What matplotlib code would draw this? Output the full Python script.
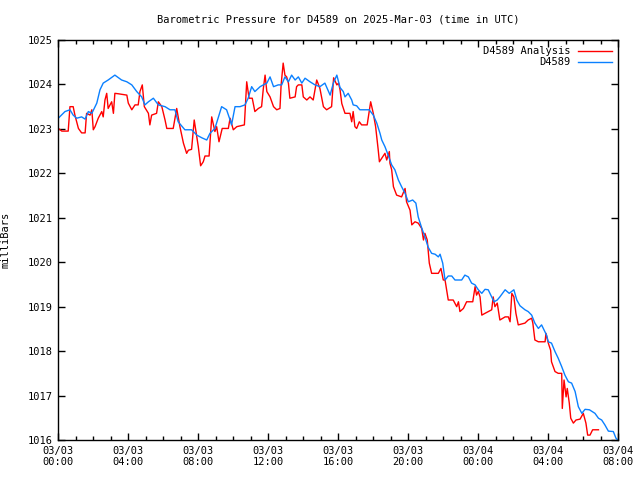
import numpy as np
import matplotlib
matplotlib.use("Agg")
import matplotlib.pyplot as plt
from matplotlib.ticker import MultipleLocator

# minutes after 2025-03-03 00:00 UTC, pressure in mb
obs_min = [1, 24, 41, 52, 64, 81, 93, 104, 116, 133, 144, 155, 172, 195, 218, 236, 253, 270,
           287, 298, 310, 327, 344, 367, 384, 401, 412, 435, 458, 476, 493, 510, 521, 538,
           550, 561, 578, 590, 595, 607, 624, 641, 652, 664, 675, 693, 704, 716, 727, 739,
           755, 767, 778, 790, 801, 813, 824, 836, 847, 864, 881, 898, 915, 933, 944, 956,
           967, 978, 984, 995, 1007, 1012, 1024, 1035, 1067, 1081, 1093, 1104, 1110, 1121,
           1132, 1144, 1155, 1167, 1178, 1190, 1201, 1216, 1227, 1235, 1247, 1258, 1269,
           1281, 1293, 1304, 1310, 1319, 1327, 1338, 1350, 1361, 1384, 1395, 1407, 1418,
           1430, 1441, 1453, 1464, 1475, 1487, 1495, 1506, 1515, 1533, 1547, 1563, 1573,
           1584, 1601, 1612, 1624, 1635, 1647, 1658, 1666, 1675, 1681, 1692, 1704, 1715,
           1727, 1738, 1750, 1761, 1773, 1784, 1796, 1807, 1822, 1841, 1853, 1864, 1875,
           1887, 1904, 1913, 1918]
obs_mb = [1023.24, 1023.39, 1023.43, 1023.31, 1023.24, 1023.27, 1023.22, 1023.39, 1023.35,
          1023.58, 1023.88, 1024.03, 1024.10, 1024.21, 1024.10, 1024.06, 1023.99, 1023.84,
          1023.72, 1023.54, 1023.61, 1023.69, 1023.54, 1023.50, 1023.43, 1023.43, 1023.16,
          1022.98, 1022.98, 1022.86, 1022.80, 1022.75, 1022.90, 1023.01, 1023.27, 1023.50,
          1023.43, 1023.20, 1023.09, 1023.50, 1023.50, 1023.54, 1023.69, 1023.95, 1023.84,
          1023.95, 1023.99, 1024.03, 1024.17, 1023.95, 1023.99, 1023.99, 1024.17, 1024.06,
          1024.21, 1024.10, 1024.17, 1024.03, 1024.14, 1024.06, 1023.99, 1023.95, 1024.03,
          1023.76, 1024.03, 1024.21, 1023.93, 1023.84, 1023.72, 1023.80, 1023.65, 1023.54,
          1023.52, 1023.43, 1023.43, 1023.31, 1023.13, 1022.90, 1022.75, 1022.60, 1022.41,
          1022.19, 1022.08, 1021.85, 1021.70, 1021.55, 1021.36, 1021.40, 1021.33, 1021.02,
          1020.77, 1020.57, 1020.34, 1020.20, 1020.18, 1020.12, 1020.18, 1019.98, 1019.60,
          1019.69, 1019.69, 1019.60, 1019.60, 1019.71, 1019.67, 1019.53, 1019.49, 1019.38,
          1019.30, 1019.39, 1019.38, 1019.22, 1019.11, 1019.15, 1019.22, 1019.38, 1019.30,
          1019.38, 1019.15, 1019.02, 1018.93, 1018.89, 1018.81, 1018.63, 1018.51, 1018.59,
          1018.48, 1018.36, 1018.21, 1018.18, 1017.99, 1017.84, 1017.65, 1017.46, 1017.31,
          1017.28, 1017.09, 1016.75, 1016.60, 1016.69, 1016.68, 1016.60, 1016.49, 1016.45,
          1016.34, 1016.20, 1016.19, 1016.04, 1016.01]

ana_min = [1, 13, 35, 41, 52, 58, 70, 81, 93, 98, 110, 116, 121, 127, 138, 150, 155, 161,
           167, 172, 184, 190, 195, 207, 236, 241, 253, 264, 275, 281, 289, 296, 310, 315,
           321, 338, 344, 356, 367, 373, 395, 407, 418, 430, 441, 447, 458, 467, 476, 481,
           489, 498, 504, 518, 527, 538, 544, 552, 563, 584, 590, 601, 613, 639, 647, 655,
           666, 675, 687, 698, 704, 710, 716, 727, 739, 750, 761, 765, 772, 778, 784, 790,
           795, 813, 818, 824, 836, 841, 853, 864, 875, 887, 898, 910, 921, 938, 945, 956,
           962, 967, 973, 984, 1001, 1007, 1012, 1018, 1024, 1033, 1041, 1060, 1066, 1072,
           1081, 1089, 1093, 1098, 1102, 1110, 1121, 1127, 1136, 1138, 1144, 1150, 1161,
           1178, 1190, 1195, 1207, 1213, 1224, 1235, 1247, 1253, 1258, 1266, 1273, 1281,
           1304, 1313, 1321, 1327, 1333, 1338, 1355, 1367, 1373, 1378, 1390, 1401, 1422,
           1430, 1435, 1441, 1447, 1453, 1464, 1487, 1492, 1498, 1506, 1515, 1533, 1544,
           1550, 1556, 1563, 1570, 1578, 1601, 1612, 1624, 1628, 1635, 1647, 1670, 1673,
           1681, 1689, 1692, 1704, 1715, 1727, 1729, 1735, 1742, 1746, 1753, 1758, 1767,
           1776, 1790, 1801, 1810, 1816, 1824, 1833, 1853]
ana_mb = [1023.01, 1022.95, 1022.95, 1023.50, 1023.50, 1023.31, 1023.01, 1022.91, 1022.91,
          1023.35, 1023.31, 1023.43, 1022.98, 1023.05, 1023.24, 1023.39, 1023.27, 1023.65,
          1023.80, 1023.46, 1023.61, 1023.35, 1023.80, 1023.79, 1023.76, 1023.58, 1023.43,
          1023.54, 1023.54, 1023.84, 1023.99, 1023.50, 1023.35, 1023.09, 1023.31, 1023.35,
          1023.61, 1023.50, 1023.20, 1023.01, 1023.01, 1023.46, 1023.05, 1022.68, 1022.45,
          1022.52, 1022.54, 1023.20, 1022.82, 1022.60, 1022.17, 1022.26, 1022.39, 1022.39,
          1023.27, 1022.94, 1023.05, 1022.71, 1023.01, 1023.01, 1023.24, 1022.98, 1023.05,
          1023.09, 1024.06, 1023.69, 1023.69, 1023.39, 1023.46, 1023.50, 1023.91, 1024.21,
          1023.84, 1023.72, 1023.50, 1023.43, 1023.46, 1023.99, 1024.48, 1024.21, 1024.17,
          1024.03, 1023.69, 1023.72, 1023.95, 1023.99, 1023.99, 1023.72, 1023.65, 1023.72,
          1023.65, 1024.10, 1023.91, 1023.50, 1023.43, 1023.50, 1024.15, 1023.99, 1024.03,
          1023.88, 1023.57, 1023.35, 1023.35, 1023.16, 1023.39, 1023.05, 1023.01, 1023.16,
          1023.09, 1023.09, 1023.35, 1023.61, 1023.35, 1023.05, 1022.82, 1022.52, 1022.26,
          1022.34, 1022.45, 1022.30, 1022.49, 1022.23, 1022.08, 1021.70, 1021.51, 1021.47,
          1021.66, 1021.36, 1021.17, 1020.84, 1020.91, 1020.88, 1020.76, 1020.50, 1020.65,
          1020.50, 1019.98, 1019.75, 1019.75, 1019.86, 1019.60, 1019.60, 1019.35, 1019.15,
          1019.15, 1019.00, 1019.11, 1018.89, 1018.96, 1019.11, 1019.11, 1019.45, 1019.26,
          1019.34, 1019.22, 1018.81, 1018.85, 1018.93, 1019.22, 1019.00, 1019.08, 1018.70,
          1018.77, 1018.77, 1018.66, 1019.30, 1019.22, 1018.85, 1018.59, 1018.63, 1018.70,
          1018.74, 1018.63, 1018.25, 1018.21, 1018.21, 1018.40, 1018.18, 1018.02, 1017.76,
          1017.54, 1017.50, 1017.50, 1016.71, 1017.35, 1016.97, 1017.16, 1016.83, 1016.49,
          1016.38, 1016.45, 1016.47, 1016.60, 1016.38, 1016.11, 1016.11, 1016.23, 1016.23]

tick_labels = ["03/03\n00:00", "03/03\n04:00", "03/03\n08:00", "03/03\n12:00", "03/03\n16:00",
               "03/03\n20:00", "03/04\n00:00", "03/04\n04:00", "03/04\n08:00"]

plt.rcParams['font.family'] = ['DejaVu Sans Mono']
plt.rcParams['font.size'] = 7.5

fig = plt.figure(figsize=(6.4, 4.8), dpi=100)
ax = fig.add_axes([58 / 640, 40 / 480, 560 / 640, 400 / 480])

ax.plot(ana_min, ana_mb, color='#ff0000', lw=1, label='D4589 Analysis')
ax.plot(obs_min, obs_mb, color='#0a80ff', lw=1, label='D4589')

ax.set_xlim(0, 1920)
ax.set_ylim(1016, 1025)
ax.set_xticks(np.arange(0, 1921, 240))
ax.set_xticklabels(tick_labels)
ax.xaxis.set_minor_locator(MultipleLocator(60))
ax.set_yticks(np.arange(1016, 1026, 1))
ax.tick_params(which='both', direction='in', top=True, right=True, width=1, colors='black')
ax.tick_params(which='major', length=5, pad=4)
ax.tick_params(which='minor', length=3)
for s in ax.spines.values():
    s.set_linewidth(1)

ax.set_ylabel('milliBars')
ax.yaxis.set_label_coords(-0.084, 0.5)
fig.text(338 / 640, 1 - 19 / 480, 'Barometric Pressure for D4589 on 2025-Mar-03 (time in UTC)',
         ha='center', va='center')

ax.legend(loc='upper right', frameon=False, markerfirst=False, handlelength=3.2,
          borderaxespad=0.2, labelspacing=0.1, handletextpad=0.8)

fig.savefig('out.png', dpi=100)
